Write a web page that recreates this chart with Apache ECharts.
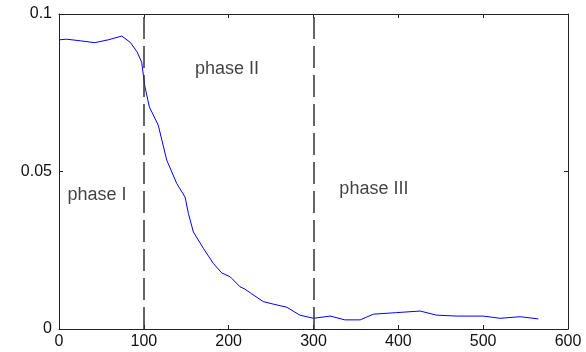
<!DOCTYPE html>
<html>
<head>
<meta charset="utf-8">
<script src="https://cdn.jsdelivr.net/npm/echarts@6/dist/echarts.min.js"></script>
<style>
  html, body { margin: 0; padding: 0; background: #fff; }
  #chart { width: 586px; height: 352px; }
</style>
</head>
<body>
<div id="chart"></div>
<script>
// curve
const xValues = [0, 9, 25, 42, 58, 74, 84, 92, 97.5, 101, 106.5, 117, 127, 138.8, 148.6, 152.5, 158.4,
  170.2, 182, 191.8, 201.7, 213.4, 219, 227, 240.8, 252.6, 268.6, 284, 300, 319.6, 337, 355, 370.6,
  398, 425.7, 445, 469, 500, 520, 543.6, 565];
const yValues = [0.0918, 0.092, 0.0915, 0.0909, 0.0918, 0.093, 0.091, 0.088, 0.0847, 0.0773, 0.0705,
  0.0647, 0.0536, 0.0462, 0.0419, 0.0367, 0.0308, 0.0256, 0.0208, 0.0178, 0.0166, 0.0134, 0.0127,
  0.0112, 0.0087, 0.0079, 0.0069, 0.0044, 0.0034, 0.0041, 0.0029, 0.0029, 0.0047, 0.0052, 0.0057,
  0.0044, 0.0041, 0.0041, 0.0034, 0.0039, 0.0032];

const phaseBounds = [100, 300];
const phaseNames = ["phase I", "phase II", "phase III"];
const phaseX = [10, 160.4, 330.5];
const phaseY = [0.0425, 0.0825, 0.0443];

const axisColor = "#222";
const font = "Liberation Sans, Arial, sans-serif";

const chart = echarts.init(document.getElementById("chart"));

const xAxisBase = {
  type: "value", min: 0, max: 600, interval: 100,
  axisLine: { show: true, onZero: false, lineStyle: { color: axisColor, width: 1 } },
  axisTick: { show: true, inside: true, length: 4, lineStyle: { color: axisColor } },
  splitLine: { show: false }
};
const yAxisBase = {
  type: "value", min: 0, max: 0.1, interval: 0.05,
  axisLine: { show: true, onZero: false, lineStyle: { color: axisColor, width: 1 } },
  axisTick: { show: true, inside: true, length: 4, lineStyle: { color: axisColor } },
  splitLine: { show: false }
};

chart.setOption({
  animation: false,
  backgroundColor: "#fff",
  grid: { left: 59, right: 18, top: 14, bottom: 23 },
  xAxis: [
    Object.assign({}, xAxisBase, {
      position: "bottom",
      axisLabel: { color: "#111", fontSize: 16, fontFamily: font, margin: 5 }
    }),
    Object.assign({}, xAxisBase, { position: "top", axisLabel: { show: false } })
  ],
  yAxis: [
    Object.assign({}, yAxisBase, {
      position: "left",
      axisLabel: { color: "#111", fontSize: 16, fontFamily: font, margin: 7,
        formatter: v => (v === 0 ? "0" : String(+v.toFixed(2))) }
    }),
    Object.assign({}, yAxisBase, { position: "right", axisLabel: { show: false } })
  ],
  series: [
    {
      type: "line",
      data: xValues.map((x, i) => [x, yValues[i]]),
      symbol: "none",
      lineStyle: { color: "#0000ff", width: 1 },
      markLine: {
        silent: true,
        symbol: "none",
        label: { show: false },
        lineStyle: { color: "#333", width: 1.5, type: [22, 7] },
        data: phaseBounds.map(b => ({ xAxis: b }))
      }
    },
    {
      type: "scatter",
      symbolSize: 0,
      silent: true,
      data: phaseNames.map((n, i) => ({ name: n, value: [phaseX[i], phaseY[i]] })),
      label: {
        show: true, position: "right", distance: 0,
        formatter: p => p.name,
        color: "#111", fontSize: 18, fontFamily: font
      }
    }
  ]
});
</script>
</body>
</html>
